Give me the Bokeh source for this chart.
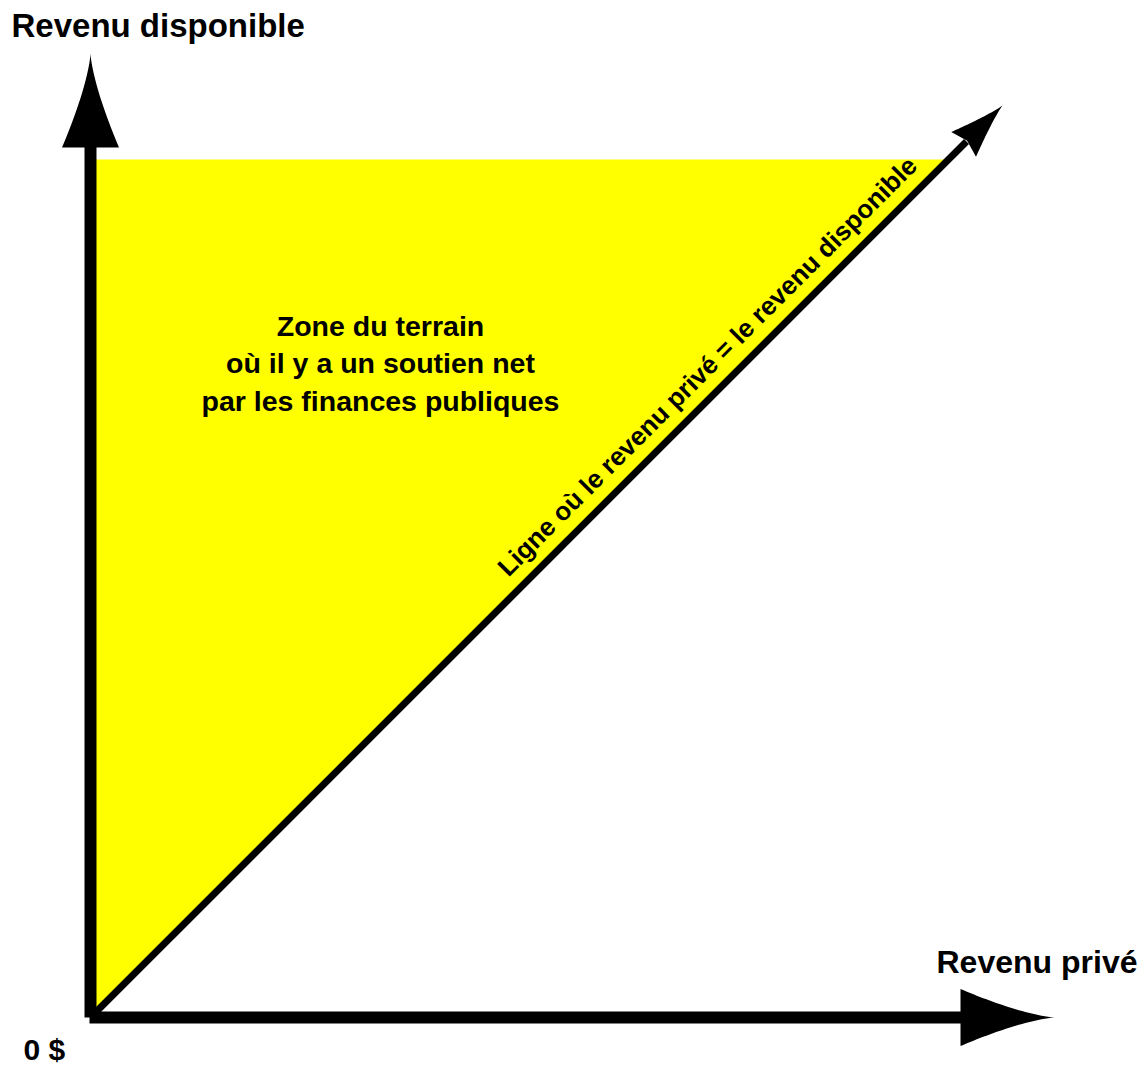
import numpy as np
from bokeh.plotting import figure
from bokeh.models import Range1d
from bokeh.core.properties import value
from bokeh.embed import file_html
from bokeh.resources import INLINE

# ---- diagram values (chart units: private income on x, disposable income on y) ----
zone_x = [0, 0, 858]          # area where disposable income > private income
zone_y = [0, 858, 858]
diag_x = [0, 876]             # line where private income = disposable income
diag_y = [0, 876]
diag_tip = [912, 912]
axis_base = 870               # start of axis arrow heads
axis_tip = 964                # tip of axis arrows

y_label = "Revenu disponible"
x_label = "Revenu privé"
origin_label = "0 $"
diag_label = "Ligne où le revenu privé = le revenu disponible"
zone_lines = ["Zone du terrain", "où il y a un soutien net", "par les finances publiques"]

FONT = value("Liberation Sans")

p = figure(width=1145, height=1073, output_backend="svg", toolbar_location=None,
           x_range=Range1d(-90, 1055), y_range=Range1d(-56, 1017),
           min_border=0, min_border_left=0, min_border_right=0,
           min_border_top=0, min_border_bottom=0)
p.axis.visible = False
p.grid.visible = False
p.outline_line_color = None
p.background_fill_color = "white"
p.border_fill_color = "white"


def head(tip, ux, uy, length, half, power, notch=0.0, n=30):
    nx, ny = -uy, ux
    bx, by = tip[0] - ux * length, tip[1] - uy * length
    t = np.linspace(0, 1, n)
    w = half * (1 - t) ** power
    ax = bx + ux * length * t
    ay = by + uy * length * t
    lx, ly = ax + nx * w, ay + ny * w
    rx, ry = ax - nx * w, ay - ny * w
    xs = list(lx) + list(rx[::-1][1:])
    ys = list(ly) + list(ry[::-1][1:])
    if notch:
        xs.append(bx + ux * notch)
        ys.append(by + uy * notch)
    return xs, ys


# yellow zone
p.patch(zone_x, zone_y, fill_color="#ffff00", line_color=None)

# diagonal line + head
p.line(diag_x, diag_y, line_color="black", line_width=7)
s = 1 / np.sqrt(2)
dx, dy = head(diag_tip, s, s, 55, 17.5, 1.2, notch=5)
p.patch(dx, dy, fill_color="black", line_color=None)

# axes shafts
p.quad(left=-6, right=6, bottom=0, top=axis_base + 4, fill_color="black", line_color=None)
p.quad(left=-1, right=axis_base + 4, bottom=-6, top=6, fill_color="black", line_color=None)

# axes heads
hx, hy = head([axis_tip, 0], 1, 0, axis_tip - axis_base, 28.5, 1.4)
p.patch(hx, hy, fill_color="black", line_color=None)
vx, vy = head([0, axis_tip], 0, 1, axis_tip - axis_base, 28.5, 1.4)
p.patch(vx, vy, fill_color="black", line_color=None)

# labels
p.text(x=[-79], y=[992], text=[y_label], text_font=FONT, text_font_style="bold",
       text_font_size="33px", text_color="black", text_align="left", text_baseline="alphabetic")
p.text(x=[846], y=[56], text=[x_label], text_font=FONT, text_font_style="bold",
       text_font_size="32px", text_color="black", text_align="left", text_baseline="alphabetic")
p.text(x=[-67], y=[-32], text=[origin_label], text_font=FONT, text_font_style="bold",
       text_font_size="30px", text_color="black", text_align="left", text_baseline="alphabetic")

zone_y0 = 692
zone_gap = 37.5
p.text(x=[290] * len(zone_lines), y=[zone_y0 - i * zone_gap for i in range(len(zone_lines))],
       text=zone_lines, text_font=FONT, text_font_style="bold", text_font_size="28.5px",
       text_color="black", text_align="center", text_baseline="alphabetic")

diag_pos = 634
diag_gap = 17.3
p.text(x=[diag_pos - diag_gap], y=[diag_pos + diag_gap], text=[diag_label], angle=np.pi / 4,
       text_font=FONT, text_font_style="bold", text_font_size="26px", text_color="black",
       text_align="center", text_baseline="alphabetic")

open("out.html", "w").write(file_html(p, INLINE))
